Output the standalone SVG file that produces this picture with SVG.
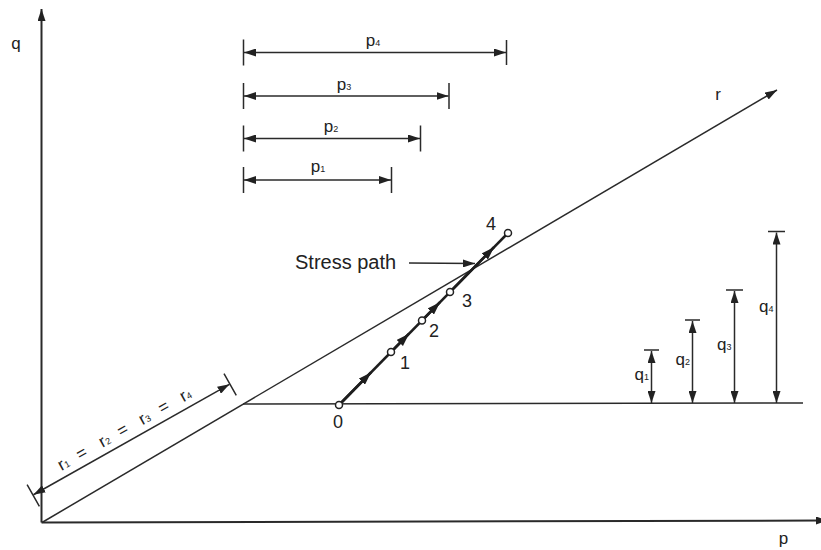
<svg xmlns="http://www.w3.org/2000/svg" width="821" height="550" viewBox="0 0 821 550">
<style>
.ln{stroke:#2a2a2a;stroke-width:1.5;fill:none}
.ax{stroke:#2a2a2a;stroke-width:2;fill:none}
.sp{stroke:#1e1e1e;stroke-width:2.5;fill:none}
.dim{stroke:#2a2a2a;stroke-width:1.5;fill:none;marker-start:url(#arr);marker-end:url(#arr)}
.t{font-family:"Liberation Sans",Arial,sans-serif;fill:#222}
.pt{fill:#fff;stroke:#222;stroke-width:1.5}
</style>
<defs>
<marker id="arr" viewBox="0 0 12 8" refX="12" refY="4" markerWidth="12" markerHeight="8" markerUnits="userSpaceOnUse" orient="auto-start-reverse">
<path d="M0,0 L12,4 L0,8 z" fill="#222"/>
</marker>
<marker id="arrS" viewBox="0 0 12 8" refX="12" refY="4" markerWidth="13" markerHeight="9" markerUnits="userSpaceOnUse" orient="auto">
<path d="M0,0 L12,4 L0,8 z" fill="#1e1e1e"/>
</marker>
</defs>
<rect width="821" height="550" fill="#fff"/>

<g id="axes">
<path class="ax" d="M41.5,522.5 L41.5,9" marker-end="url(#arr)"/>
<path class="ax" d="M41.5,522.5 L828,520.5" marker-end="url(#arr)"/>
<text class="t" x="16" y="49" font-size="17" text-anchor="middle">q</text>
<text class="t" x="783.5" y="544" font-size="17" text-anchor="middle">p</text>
</g>

<g id="r-line">
<path class="ln" d="M42,522.5 L777,90" marker-end="url(#arr)"/>
<text class="t" x="718" y="100" font-size="17" text-anchor="middle">r</text>
</g>

<g id="base-line">
<path class="ln" d="M243,404 L803,403"/>
</g>

<g id="p-dimensions">
<path class="ln" d="M243.5,39.5 V65.5 M243.5,83 V109 M243.5,125.5 V151.5 M243.5,167 V193"/>
<path class="ln" d="M506.5,40 V65 M449,83 V109 M420.5,125.5 V151.5 M391.5,167 V193"/>
<path class="dim" d="M244,52.5 H506"/>
<path class="dim" d="M244,96 H448.5"/>
<path class="dim" d="M244,138.5 H420"/>
<path class="dim" d="M244,180 H391"/>
<text class="t" x="373" y="45.5" font-size="17" text-anchor="middle">p<tspan font-size="9">4</tspan></text>
<text class="t" x="344" y="89.5" font-size="17" text-anchor="middle">p<tspan font-size="9">3</tspan></text>
<text class="t" x="331" y="131.5" font-size="17" text-anchor="middle">p<tspan font-size="9">2</tspan></text>
<text class="t" x="318" y="172" font-size="17" text-anchor="middle">p<tspan font-size="9">1</tspan></text>
</g>

<g id="q-dimensions">
<path class="ln" d="M644,350 H659 M685,320 H700 M726,290 H743 M768,231.5 H785"/>
<path class="dim" d="M651.5,351 V403"/>
<path class="dim" d="M692.5,321 V403"/>
<path class="dim" d="M734.5,291 V403"/>
<path class="dim" d="M776.5,232.5 V403"/>
<text class="t" x="649" y="379.5" font-size="17" text-anchor="end">q<tspan font-size="9">1</tspan></text>
<text class="t" x="690" y="365" font-size="17" text-anchor="end">q<tspan font-size="9">2</tspan></text>
<text class="t" x="731.5" y="349.5" font-size="17" text-anchor="end">q<tspan font-size="9">3</tspan></text>
<text class="t" x="773.5" y="311.5" font-size="17" text-anchor="end">q<tspan font-size="9">4</tspan></text>
</g>

<g id="r-dimension" transform="translate(33,495) rotate(-29.4)">
<path class="ln" d="M0,-12 V13 M226,-12 V13"/>
<path class="dim" d="M0.5,0 H225.5"/>
<text class="t" x="42" y="-7" font-size="17" text-anchor="middle">r<tspan font-size="9">1</tspan></text>
<text class="t" x="63" y="-7" font-size="17" text-anchor="middle">=</text>
<text class="t" x="89" y="-7" font-size="17" text-anchor="middle">r<tspan font-size="9">2</tspan></text>
<text class="t" x="110" y="-7" font-size="17" text-anchor="middle">=</text>
<text class="t" x="135" y="-7" font-size="17" text-anchor="middle">r<tspan font-size="9">3</tspan></text>
<text class="t" x="157" y="-7" font-size="17" text-anchor="middle">=</text>
<text class="t" x="182" y="-7" font-size="17" text-anchor="middle">r<tspan font-size="9">4</tspan></text>
</g>

<g id="stress-path">
<path class="sp" d="M339,405 L508,233"/>
<path class="sp" d="M339,405 L371,372.4" marker-end="url(#arrS)"/>
<path class="sp" d="M391,352 L409,333.7" marker-end="url(#arrS)"/>
<path class="sp" d="M422,320.5 L440,302.2" marker-end="url(#arrS)"/>
<path class="sp" d="M450,292 L494,247.2" marker-end="url(#arrS)"/>
</g>

<g id="point-0"><circle class="pt" cx="339" cy="405" r="3.5"/><text class="t" x="338" y="428" font-size="18" text-anchor="middle">0</text></g>
<g id="point-1"><circle class="pt" cx="391" cy="352" r="3.5"/><text class="t" x="405" y="369" font-size="18" text-anchor="middle">1</text></g>
<g id="point-2"><circle class="pt" cx="422" cy="320.5" r="3.5"/><text class="t" x="434" y="336.5" font-size="18" text-anchor="middle">2</text></g>
<g id="point-3"><circle class="pt" cx="450" cy="292" r="3.5"/><text class="t" x="467" y="306.5" font-size="18" text-anchor="middle">3</text></g>
<g id="point-4"><circle class="pt" cx="508" cy="233" r="3.5"/><text class="t" x="491" y="230" font-size="18" text-anchor="middle">4</text></g>

<g id="stress-path-label">
<text class="t" x="295" y="269" font-size="20">Stress path</text>
<path class="ln" d="M409,263 L475,263.5" marker-end="url(#arr)"/>
</g>
</svg>
